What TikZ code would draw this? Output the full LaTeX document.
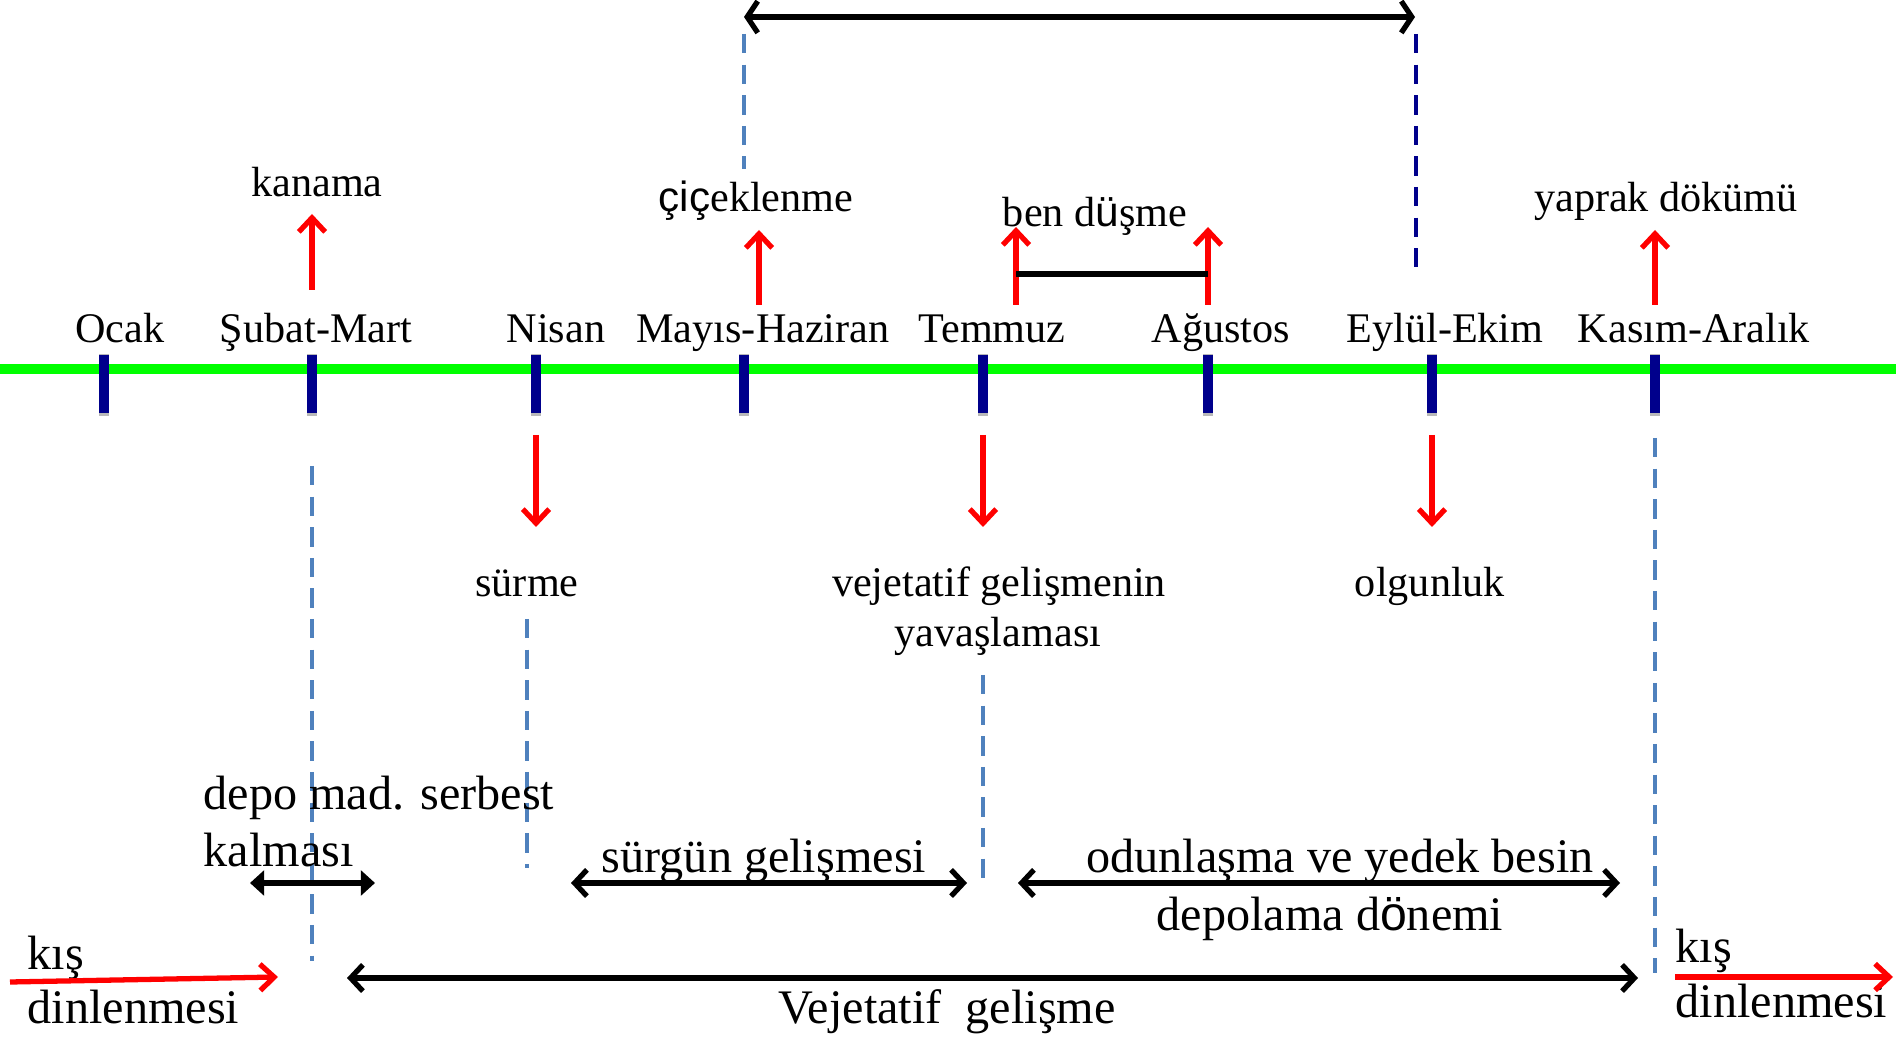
\documentclass[tikz,border=0pt]{standalone}
\usepackage{fontspec}
\setmainfont{Liberation Serif}
\newfontfamily\altfont{Liberation Sans}
\usepackage{tikz}
\usetikzlibrary{arrows.meta}
\definecolor{TickNavy}{RGB}{0,0,140}
\definecolor{DashBlue}{RGB}{79,129,189}
\definecolor{AxisGreen}{RGB}{0,255,0}

\begin{document}
\begin{tikzpicture}[x=0.01cm, y=-0.01cm,
    monthlbl/.style={font=\fontsize{12}{14}\selectfont, anchor=base, inner sep=0pt},
    phaselbl/.style={font=\fontsize{13.7}{16}\selectfont, anchor=base, inner sep=0pt},
    redarr/.style={red, line width=1.5pt, -{Straight Barb[length=4pt,width=7.5pt]}},
    spanarr/.style={line width=1.5pt, {Straight Barb[length=3.5pt,width=7.5pt]}-{Straight Barb[length=3.5pt,width=7.5pt]}},
    guide/.style={DashBlue, line width=1.1pt, dash pattern=on 5.5pt off 3.2pt}]
    \useasboundingbox (0,0) rectangle (1896,1037);

    % Time axis
    \coordinate (axisL) at (0,369);
    \coordinate (axisR) at (1896,369);
    \draw[AxisGreen, line width=3.1pt] (axisL) -- (axisR);

    % Month ticks and labels
    \foreach \i/\x/\lx/\m in {1/104/120/Ocak, 2/312/316/Şubat-Mart, 3/536/556/Nisan, 4/744/763/Mayıs-Haziran, 5/983/992/Temmuz, 6/1208/1221/Ağustos, 7/1432/1445/Eylül-Ekim, 8/1655/1694/Kasım-Aralık} {
        \fill[gray!55] ({\x-5},354) rectangle ({\x+5},416);
        \node[fill=TickNavy, minimum width=0.1cm, minimum height=0.58cm, inner sep=0pt, anchor=north] (t\i) at (\x,354) {};
        \node[monthlbl] (m\i) at (\lx,343) {\m};
    }

    % Stage arrows (up and down)
    \foreach \n/\x/\a/\b in {kan/312/290/214, cic/759/305/230, benA/1016/305/227, benB/1208/305/227, yap/1655/305/230, sur/536/435/527, yav/983/435/527, olg/1432/435/527} {
        \coordinate (\n-s) at (\x,\a);
        \coordinate (\n-e) at (\x,\b);
        \draw[redarr] (\n-s) -- (\n-e);
    }
    \coordinate (barL) at (1016,274);
    \coordinate (barR) at (1208,274);
    \draw[line width=1.8pt] (barL) -- (barR);

    % Stage labels
    \node[monthlbl] (kanama) at (317,197) {kanama};
    \node[monthlbl] (cicek) at (756,212) {{\altfont çiç}eklenme};
    \node[monthlbl] (bendus) at (1095,227) {ben d{\altfont ü}şme};
    \node[monthlbl] (yaprak) at (1666,212) {yaprak dökümü};
    \node[monthlbl] (surme) at (527,597) {sürme};
    \node[monthlbl] (yavasA) at (999,597) {vejetatif gelişmenin};
    \node[monthlbl] (yavasB) at (998,647) {yavaşlaması};
    \node[monthlbl] (olgun) at (1430,597) {olgunluk};

    % Dashed guides
    \coordinate (gA1) at (744,34);   \coordinate (gA2) at (744,169);
    \coordinate (gB1) at (1416,34);  \coordinate (gB2) at (1416,272);
    \coordinate (gC1) at (312,466);  \coordinate (gC2) at (312,961);
    \coordinate (gD1) at (527,619);  \coordinate (gD2) at (527,868);
    \coordinate (gE1) at (983,675);  \coordinate (gE2) at (983,883);
    \coordinate (gF1) at (1655,438); \coordinate (gF2) at (1655,973);
    \draw[guide] (gA1) -- (gA2);
    \draw[guide, TickNavy] (gB1) -- (gB2);
    \draw[guide] (gC1) -- (gC2);
    \draw[guide] (gD1) -- (gD2);
    \draw[guide] (gE1) -- (gE2);
    \draw[guide] (gF1) -- (gF2);

    % Flowering span
    \coordinate (topL) at (744,17);
    \coordinate (topR) at (1415,17);
    \draw[spanarr, {Straight Barb[length=3pt,width=9pt]}-{Straight Barb[length=3pt,width=9pt]}] (topL) -- (topR);

    % Phases
    \node[phaselbl, anchor=base west] (depoA) at (203,810) {depo mad. serbest};
    \node[phaselbl, anchor=base west] (depoB) at (203,867) {kalması};
    \coordinate (depoL) at (250,883);
    \coordinate (depoR) at (375,883);
    \draw[line width=1.8pt, {Triangle[length=4pt,width=7pt]}-{Triangle[length=4pt,width=7pt]}] (depoL) -- (depoR);

    \node[phaselbl] (surgun) at (764,873) {sürgün gelişmesi};
    \coordinate (surgL) at (571,883);
    \coordinate (surgR) at (967,883);
    \draw[spanarr] (surgL) -- (surgR);

    \node[phaselbl] (odunA) at (1340,873) {odunlaşma ve yedek besin};
    \node[phaselbl] (odunB) at (1330,931) {depolama d{\altfont ö}nemi};
    \coordinate (odunL) at (1018,883);
    \coordinate (odunR) at (1620,883);
    \draw[spanarr] (odunL) -- (odunR);

    \coordinate (vegL) at (347,978);
    \coordinate (vegR) at (1638,978);
    \draw[spanarr] (vegL) -- (vegR);
    \node[phaselbl] (vejet) at (947,1024) {Vejetatif\ \ gelişme};

    % Winter rest
    \node[phaselbl, anchor=base west] (kisA) at (27,970) {kış};
    \node[phaselbl, anchor=base west] (kisB) at (27,1024) {dinlenmesi};
    \coordinate (kisL1) at (10,982);
    \coordinate (kisL2) at (278,977);
    \draw[redarr] (kisL1) -- (kisL2);
    \node[phaselbl, anchor=base west] (kisC) at (1675,963) {kış};
    \node[phaselbl, anchor=base west] (kisD) at (1675,1018) {dinlenmesi};
    \coordinate (kisR1) at (1675,977);
    \coordinate (kisR2) at (1893,977);
    \draw[redarr] (kisR1) -- (kisR2);
\end{tikzpicture}
\end{document}
